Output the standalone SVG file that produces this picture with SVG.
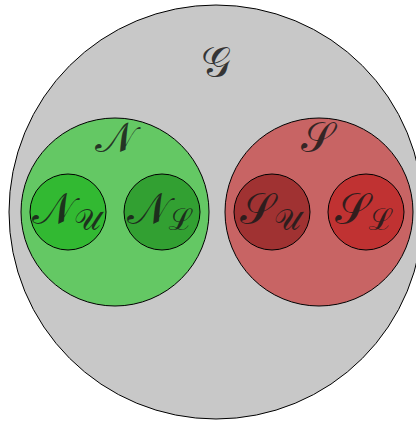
<svg xmlns="http://www.w3.org/2000/svg" width="416" height="421" viewBox="0 0 416 421">
<style>
circle{stroke:#000;stroke-width:1}
text{font-family:"DejaVu Serif","Noto Sans","DejaVu Sans",serif;fill:#1a1a1a;fill-opacity:0.85;text-anchor:middle}
.big{font-size:44px}
.sub{font-size:30px}
.lab{font-size:42px}
</style>
<rect width="416" height="421" fill="#fff"/>
<g id="G">
<circle cx="216" cy="212" r="207" fill="#c8c8c8"/>
<text class="lab" x="216" y="76">𝒢</text>
</g>
<g id="N">
<circle cx="115" cy="212" r="94" fill="#64c864"/>
<text class="lab" x="115" y="152">𝒩</text>
</g>
<g id="S">
<circle cx="319" cy="212" r="94" fill="#c86464"/>
<text class="lab" x="317" y="152">𝒮</text>
</g>
<g id="NU">
<circle cx="68" cy="212" r="38" fill="#32b932"/>
<text x="66" y="224"><tspan class="big">𝒩</tspan><tspan class="sub" dy="6">𝒰</tspan></text>
</g>
<g id="NL">
<circle cx="162" cy="212" r="38" fill="#32a032"/>
<text x="160" y="224"><tspan class="big">𝒩</tspan><tspan class="sub" dy="6">ℒ</tspan></text>
</g>
<g id="SU">
<circle cx="272" cy="212" r="38" fill="#a03232"/>
<text x="270" y="224"><tspan class="big">𝒮</tspan><tspan class="sub" dy="6">𝒰</tspan></text>
</g>
<g id="SL">
<circle cx="366" cy="212" r="38" fill="#c03232"/>
<text x="364" y="224"><tspan class="big">𝒮</tspan><tspan class="sub" dy="6">ℒ</tspan></text>
</g>
<g id="connectors"/>
</svg>
